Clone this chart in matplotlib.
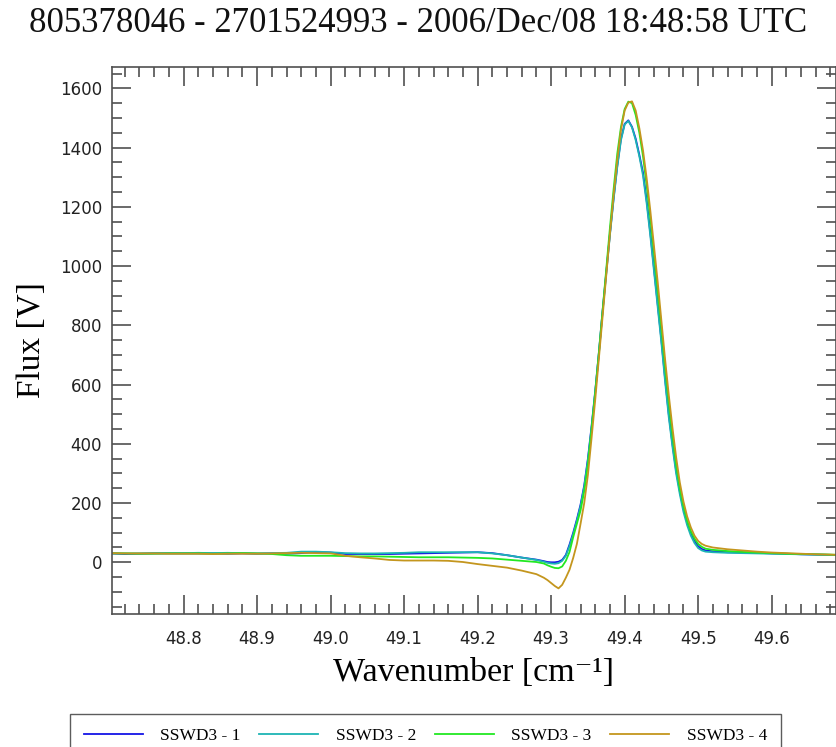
import matplotlib
matplotlib.use("Agg")
import matplotlib.pyplot as plt
from matplotlib.ticker import MultipleLocator

title = "805378046 - 2701524993 - 2006/Dec/08 18:48:58 UTC"
xlabel = "Wavenumber [cm⁻¹]"
ylabel = "Flux [V]"
labels = ["SSWD3 - 1", "SSWD3 - 2", "SSWD3 - 3", "SSWD3 - 4"]
colors = ["#1414e6", "#1cb4b4", "#22e822", "#c4961e"]

wavenumber = [48.70, 48.72, 48.74, 48.76, 48.78, 48.80, 48.82, 48.84, 48.86, 48.88,
              48.90, 48.92, 48.94, 48.96, 48.98, 49.00, 49.02, 49.04, 49.06, 49.08,
              49.10, 49.12, 49.14, 49.16, 49.18, 49.20, 49.22, 49.24, 49.26, 49.28,
              49.29, 49.295, 49.30, 49.305, 49.31, 49.315, 49.32, 49.325, 49.33, 49.335,
              49.34, 49.345, 49.35, 49.355, 49.36, 49.365, 49.37, 49.375, 49.38, 49.385,
              49.39, 49.395, 49.40, 49.405, 49.41, 49.415, 49.42, 49.425, 49.43, 49.435,
              49.44, 49.445, 49.45, 49.455, 49.46, 49.465, 49.47, 49.475, 49.48, 49.485,
              49.49, 49.495, 49.50, 49.505, 49.51,
              49.52, 49.54, 49.56, 49.58, 49.60, 49.62, 49.64, 49.66, 49.68, 49.69]

flux_1 = [30, 28, 29, 30, 30, 30, 30, 30, 29, 30,
          29, 30, 29, 31, 34, 33, 28, 28, 28, 28,
          29, 30, 31, 32, 33, 34, 31, 24, 16, 9,
          4, 1, 0, 0, 2, 8, 25, 60, 100, 145,
          195, 260, 350, 460, 580, 710, 850, 980, 1110, 1230,
          1340, 1430, 1480, 1492, 1470, 1430, 1375, 1315, 1220, 1110,
          990, 870, 750, 620, 500, 400, 310, 240, 180, 135,
          100, 72, 54, 45, 40,
          37, 34, 33, 32, 30, 29, 27, 26, 25, 24]

flux_2 = [31, 30, 30, 31, 31, 31, 32, 31, 32, 31,
          30, 31, 32, 36, 36, 34, 31, 30, 30, 31,
          32, 34, 34, 34, 34, 34, 30, 24, 16, 8,
          2, -2, -4, -5, -3, 5, 22, 55, 95, 140,
          190, 255, 345, 455, 575, 705, 845, 975, 1105, 1225,
          1335, 1425, 1478, 1490, 1468, 1425, 1370, 1305, 1210, 1100,
          980, 860, 740, 610, 490, 390, 300, 230, 170, 125,
          90, 65, 48, 40, 36,
          34, 32, 31, 30, 29, 28, 27, 26, 25, 24]

flux_3 = [30, 30, 29, 29, 30, 30, 30, 29, 30, 31,
          30, 28, 24, 22, 22, 22, 21, 20, 20, 19,
          18, 17, 17, 17, 16, 15, 13, 9, 5, 1,
          -4, -10, -15, -19, -20, -14, 5, 35, 85, 130,
          175, 240, 330, 450, 575, 710, 850, 990, 1130, 1260,
          1380, 1470, 1530, 1555, 1550, 1510, 1450, 1370, 1270, 1160,
          1040, 915, 790, 660, 540, 430, 330, 250, 190, 140,
          105, 80, 62, 52, 46,
          42, 38, 35, 33, 31, 29, 28, 27, 26, 25]

flux_4 = [31, 30, 30, 30, 29, 29, 29, 28, 29, 29,
          29, 30, 31, 32, 31, 30, 22, 17, 13, 8,
          6, 6, 6, 5, 1, -6, -12, -18, -28, -40,
          -52, -60, -70, -80, -88, -76, -52, -25, 15, 62,
          130, 200, 295, 420, 550, 690, 830, 970, 1110, 1240,
          1360, 1460, 1525, 1552, 1556, 1525, 1465, 1390, 1295, 1185,
          1065, 945, 815, 685, 565, 455, 355, 270, 205, 155,
          118, 90, 72, 62, 56,
          50, 44, 40, 36, 33, 31, 29, 27, 26, 25]

series = [flux_1, flux_2, flux_3, flux_4]

W, H = 837, 747
fig = plt.figure(figsize=(W / 100, H / 100), dpi=100)
ax = fig.add_axes([112 / W, 1 - 614 / H, (836 - 112) / W, (614 - 67) / H])

lines = []
for ys, c, lab in zip(series, colors, labels):
    ln, = ax.plot(wavenumber, ys, color=c, lw=1.3, label=lab)
    lines.append(ln)

ax.set_xlim(48.7026, 49.6875)
ax.set_ylim(-174.5, 1672)
ax.xaxis.set_major_locator(MultipleLocator(0.1))
ax.xaxis.set_minor_locator(MultipleLocator(0.02))
ax.yaxis.set_major_locator(MultipleLocator(200))
ax.yaxis.set_minor_locator(MultipleLocator(50))
ax.xaxis.set_major_formatter(plt.FuncFormatter(lambda v, p: f"{v:.1f}"))
ax.yaxis.set_major_formatter(plt.FuncFormatter(lambda v, p: f"{v:.0f}" if v >= 0 else ""))

spine_c = "#505050"
for s in ax.spines.values():
    s.set_color(spine_c)
    s.set_linewidth(1.2)
ax.tick_params(which="both", direction="in", top=True, right=True, color=spine_c, width=1.2)
ax.tick_params(which="major", length=13.5)
ax.tick_params(which="minor", length=7)
ax.tick_params(axis="x", which="major", pad=11.5, labelsize=12, labelcolor="#222222")
ax.tick_params(axis="y", which="major", pad=7.2, labelsize=12, labelcolor="#222222")

serif = ["Liberation Serif", "DejaVu Serif"]
fig.text(0.5, 1 - 32 / H, title, ha="center", va="baseline", fontsize=25, family=serif, color="#111111")
ax.set_xlabel(xlabel, fontsize=24.5, family=serif, labelpad=7)
ax.set_ylabel(ylabel, fontsize=24, family=serif, labelpad=9)

leg = fig.legend(handles=lines, labels=labels, loc="upper left",
                 bbox_to_anchor=(70 / W, 0, 711 / W, 1 - 714 / H),
                 mode="expand", ncol=4, frameon=True, fancybox=False,
                 borderaxespad=0, handlelength=3.4, handletextpad=1.0,
                 borderpad=0.8, prop={"family": serif, "size": 12.5})
leg.get_frame().set_edgecolor("#333333")
leg.get_frame().set_linewidth(1.0)

fig.savefig("out.png", dpi=100)
